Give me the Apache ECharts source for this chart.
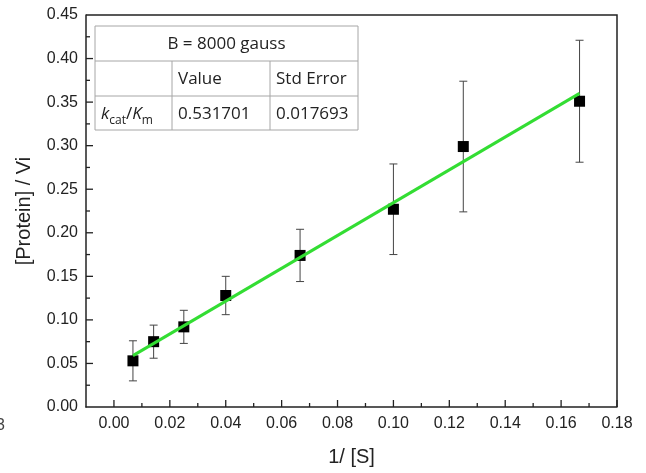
<!DOCTYPE html>
<html>
<head>
<meta charset="utf-8">
<script src="https://cdn.jsdelivr.net/npm/echarts@6/dist/echarts.min.js"></script>
<style>
  html, body { margin: 0; padding: 0; background: #fff; }
  #chart { width: 646px; height: 473px; }
</style>
</head>
<body>
<div id="chart"></div>
<script>
// Lineweaver–Burk style plot: [Protein]/Vi against 1/[S]
const invS      = [0.0068, 0.0142, 0.025, 0.04, 0.0666, 0.1, 0.125, 0.1666];
const ratio     = [0.053, 0.075, 0.092, 0.128, 0.174, 0.227, 0.299, 0.351];
const ratioErr  = [0.023, 0.019, 0.019, 0.022, 0.030, 0.052, 0.075, 0.070];

// Linear fit end points
const fitX = [0.0068, 0.1666];
const fitY = [0.059, 0.360];

// Axis tick positions
const xTickValues  = [0, 0.02, 0.04, 0.06, 0.08, 0.10, 0.12, 0.14, 0.16, 0.18];
const xMinorValues = [0.01, 0.03, 0.05, 0.07, 0.09, 0.11, 0.13, 0.15, 0.17];
const yTickValues  = [0.05, 0.10, 0.15, 0.20, 0.25, 0.30, 0.35, 0.40];
const yMinorValues = [0.025, 0.075, 0.125, 0.175, 0.225, 0.275, 0.325, 0.375, 0.425];

// Fit results table
const tableTitle = 'B = 8000 gauss';
const tableHead = ['', 'Value', 'Std Error'];
const fitValue = '0.531701';
const fitStdErr = '0.017693';

const AXIS_FONT = "'Liberation Sans', Arial, sans-serif";
const TABLE_FONT = "'Open Sans', 'Noto Sans', sans-serif";
const INK = '#222';
const X_MIN = -0.01, X_MAX = 0.18, Y_MIN = 0, Y_MAX = 0.45;

const chart = echarts.init(document.getElementById('chart'));

const pointData = invS.map((x, i) => [x, ratio[i]]);
const errData = invS.map((x, i) => [x, ratio[i] - ratioErr[i], ratio[i] + ratioErr[i]]);
const fitData = fitX.map((x, i) => [x, fitY[i]]);

// Table geometry
const T = { x0: 95, x1: 358, y0: 26, y1: 130, r1: 61, r2: 96, c1: 172, c2: 270 };
const gridLine = '#a6a6a6';
function hLine(y, x0, x1) {
  return { type: 'line', shape: { x1: x0, y1: y, x2: x1, y2: y }, style: { stroke: gridLine, lineWidth: 1 }, z: 101 };
}
function vLine(x, y0, y1) {
  return { type: 'line', shape: { x1: x, y1: y0, x2: x, y2: y1 }, style: { stroke: gridLine, lineWidth: 1 }, z: 101 };
}
function cellText(text, x, y, align) {
  return {
    type: 'text', x: x, y: y, z: 102,
    style: { text: text, fill: INK, font: '17px ' + TABLE_FONT, textAlign: align || 'left', textVerticalAlign: 'middle' }
  };
}

const tableGraphics = [
  { type: 'rect', shape: { x: T.x0, y: T.y0, width: T.x1 - T.x0, height: T.y1 - T.y0 }, style: { fill: '#fff', stroke: gridLine, lineWidth: 1 }, z: 100 },
  hLine(T.r1, T.x0, T.x1),
  hLine(T.r2, T.x0, T.x1),
  vLine(T.c1, T.r1, T.y1),
  vLine(T.c2, T.r1, T.y1),
  cellText(tableTitle, (T.x0 + T.x1) / 2, (T.y0 + T.r1) / 2 + 1, 'center'),
  cellText(tableHead[1], T.c1 + 6, (T.r1 + T.r2) / 2 + 1),
  cellText(tableHead[2], T.c2 + 6, (T.r1 + T.r2) / 2 + 1),
  cellText(fitValue, T.c1 + 6, (T.r2 + T.y1) / 2 + 1),
  cellText(fitStdErr, T.c2 + 6, (T.r2 + T.y1) / 2 + 1),
  {
    type: 'text', x: T.x0 + 6, y: (T.r2 + T.y1) / 2 + 1, z: 102,
    style: {
      text: '{i|k}{s|cat}{n|/}{i|K}{s|m}',
      textVerticalAlign: 'middle',
      rich: {
        i: { font: 'italic 17px ' + TABLE_FONT, fill: INK, verticalAlign: 'bottom' },
        n: { font: '17px ' + TABLE_FONT, fill: INK, verticalAlign: 'bottom' },
        s: { font: '12px ' + TABLE_FONT, fill: INK, verticalAlign: 'bottom', padding: [0, 0, -4, 0] }
      }
    }
  },
  // fragment of a neighbouring panel's label at the left edge
  {
    type: 'text', x: -4, y: 418,
    style: { text: '3', font: '16px ' + AXIS_FONT, fill: '#444' }
  }
];

const option = {
  animation: false,
  backgroundColor: '#fff',
  grid: { left: 86, right: 29, top: 15, bottom: 66 },
  xAxis: {
    type: 'value', min: X_MIN, max: X_MAX,
    name: '1/ [S]', nameLocation: 'middle', nameGap: 40,
    nameTextStyle: { fontFamily: AXIS_FONT, fontSize: 20, color: INK },
    axisLine: { show: true, onZero: false, lineStyle: { color: INK, width: 1.5 } },
    axisTick: { show: false },
    axisLabel: {
      customValues: xTickValues, margin: 9,
      fontFamily: AXIS_FONT, fontSize: 16, color: INK,
      formatter: v => v.toFixed(2)
    },
    splitLine: { show: false }
  },
  yAxis: {
    type: 'value', min: Y_MIN, max: Y_MAX, interval: 0.05, position: 'left',
    name: '[Protein] / Vi', nameLocation: 'middle', nameGap: 52,
    nameTextStyle: { fontFamily: AXIS_FONT, fontSize: 20, color: INK },
    axisLine: { show: true, onZero: false, lineStyle: { color: INK, width: 1.5 } },
    axisTick: { show: false },
    axisLabel: { margin: 8, fontFamily: AXIS_FONT, fontSize: 16, color: INK, formatter: v => v.toFixed(2) },
    splitLine: { show: false }
  },
  series: [
    {
      // top and right edges of the frame
      type: 'custom',
      data: [[X_MAX, Y_MAX]],
      z: 5,
      silent: true,
      renderItem: function (params, api) {
        const tl = api.coord([X_MIN, Y_MAX]);
        const tr = api.coord([X_MAX, Y_MAX]);
        const br = api.coord([X_MAX, Y_MIN]);
        return {
          type: 'polyline',
          shape: { points: [tl, tr, br] },
          style: { stroke: INK, lineWidth: 1.5, fill: null }
        };
      }
    },
    {
      type: 'custom',
      data: errData,
      z: 2,
      renderItem: function (params, api) {
        const x = api.value(0);
        const lo = api.coord([x, api.value(1)]);
        const hi = api.coord([x, api.value(2)]);
        const cap = 4;
        const style = { stroke: '#444', lineWidth: 1 };
        return {
          type: 'group',
          children: [
            { type: 'line', shape: { x1: lo[0], y1: lo[1], x2: hi[0], y2: hi[1] }, style: style },
            { type: 'line', shape: { x1: hi[0] - cap, y1: hi[1], x2: hi[0] + cap, y2: hi[1] }, style: style },
            { type: 'line', shape: { x1: lo[0] - cap, y1: lo[1], x2: lo[0] + cap, y2: lo[1] }, style: style }
          ]
        };
      }
    },
    {
      type: 'scatter',
      data: pointData,
      symbol: 'rect',
      symbolSize: 11,
      itemStyle: { color: '#000', opacity: 1 },
      z: 3
    },
    {
      // linear fit
      type: 'custom',
      data: fitData,
      z: 4,
      renderItem: function (params, api) {
        if (params.dataIndex !== 0) return null;
        const pts = fitData.map(d => api.coord(d));
        return { type: 'polyline', shape: { points: pts }, style: { stroke: '#33dd33', lineWidth: 3, fill: null } };
      }
    }
  ],
  graphic: tableGraphics
};

chart.setOption(option);

// Inward tick marks, placed through the axes' own value-to-pixel mapping
function tickMark(x, y, len, vertical) {
  const p = chart.convertToPixel({ xAxisIndex: 0, yAxisIndex: 0 }, [x, y]);
  const w = 1.3;
  const shape = vertical
    ? { x: p[0] - w / 2, y: p[1] - len, width: w, height: len }
    : { x: p[0], y: p[1] - w / 2, width: len, height: w };
  return { type: 'rect', shape: shape, style: { fill: INK }, z: 200, silent: true };
}
const tickGraphics = []
  .concat(xTickValues.map(v => tickMark(v, Y_MIN, 7, true)))
  .concat(xMinorValues.map(v => tickMark(v, Y_MIN, 4, true)))
  .concat(yTickValues.map(v => tickMark(X_MIN, v, 7, false)))
  .concat(yMinorValues.map(v => tickMark(X_MIN, v, 4, false)));

chart.setOption({ graphic: tableGraphics.concat(tickGraphics) });
</script>
</body>
</html>
